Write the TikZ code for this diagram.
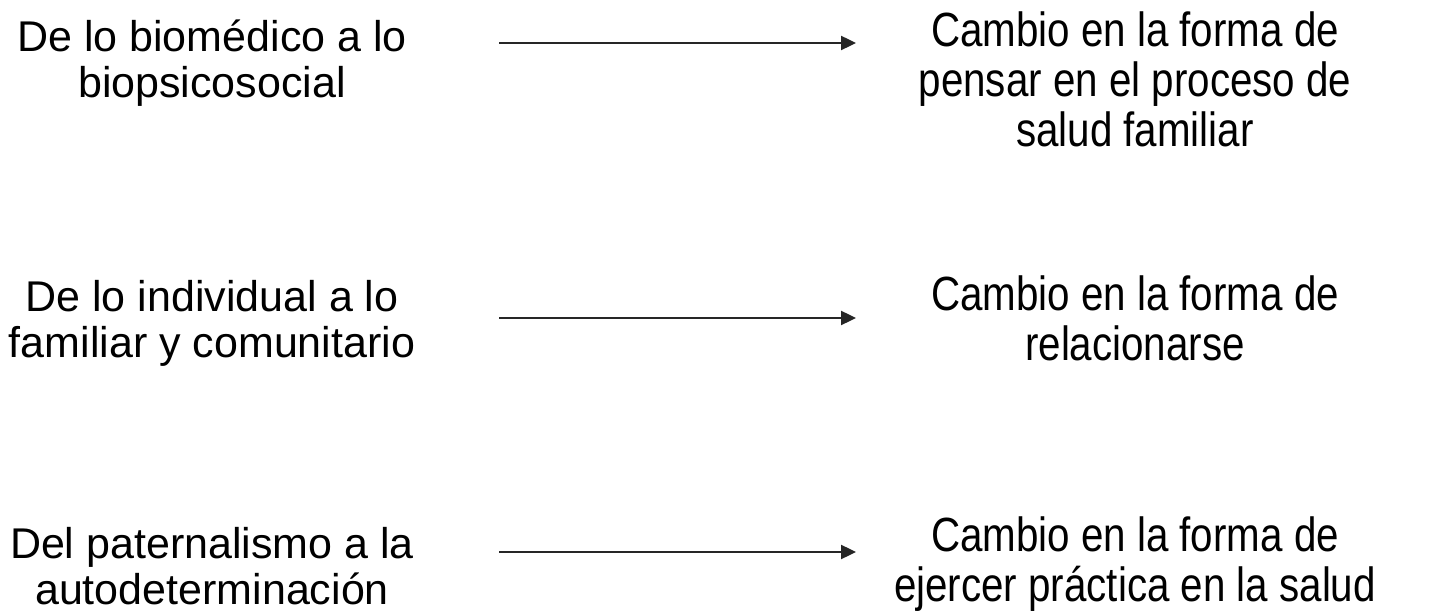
\documentclass[tikz,border=0pt]{standalone}
\usepackage{fontspec}
\setmainfont{Liberation Sans}
\newfontfamily\narrowfont[FakeStretch=0.84]{Liberation Sans}
\usetikzlibrary{arrows.meta}
\tikzset{
  lefttext/.style={align=center, inner sep=0pt, anchor=base, font=\fontsize{43}{46}\selectfont},
  righttext/.style={align=center, inner sep=0pt, anchor=base, font=\narrowfont\fontsize{48}{50}\selectfont},
  arr/.style={line width=2.4pt, draw=black!85, -{Triangle[length=15pt,width=14pt]}}
}
\begin{document}
\begin{tikzpicture}[x=1pt,y=-1pt]
\useasboundingbox (0,0) rectangle (1444,612);
% left texts (anchor = baseline of last line)
\node[lefttext] (l1) at (212,98) {De lo biomédico a lo\\biopsicosocial};
\node[lefttext] (l2) at (212,358) {De lo individual a lo\\familiar y comunitario};
\node[lefttext] (l3) at (212,604) {Del paternalismo a la\\autodeterminación};
% right texts
\node[righttext] (r1) at (1135,147) {Cambio en la forma de\\pensar en el proceso de\\salud familiar};
\node[righttext] (r2) at (1135,361) {Cambio en la forma de\\relacionarse};
\node[righttext] (r3) at (1135,601) {Cambio en la forma de\\ejercer práctica en la salud};
% arrows
\coordinate (a1s) at (499,43); \coordinate (a1e) at (856,43);
\coordinate (a2s) at (499,318); \coordinate (a2e) at (856,318);
\coordinate (a3s) at (499,552); \coordinate (a3e) at (856,552);
\draw[arr] (a1s) -- (a1e);
\draw[arr] (a2s) -- (a2e);
\draw[arr] (a3s) -- (a3e);
\end{tikzpicture}
\end{document}
